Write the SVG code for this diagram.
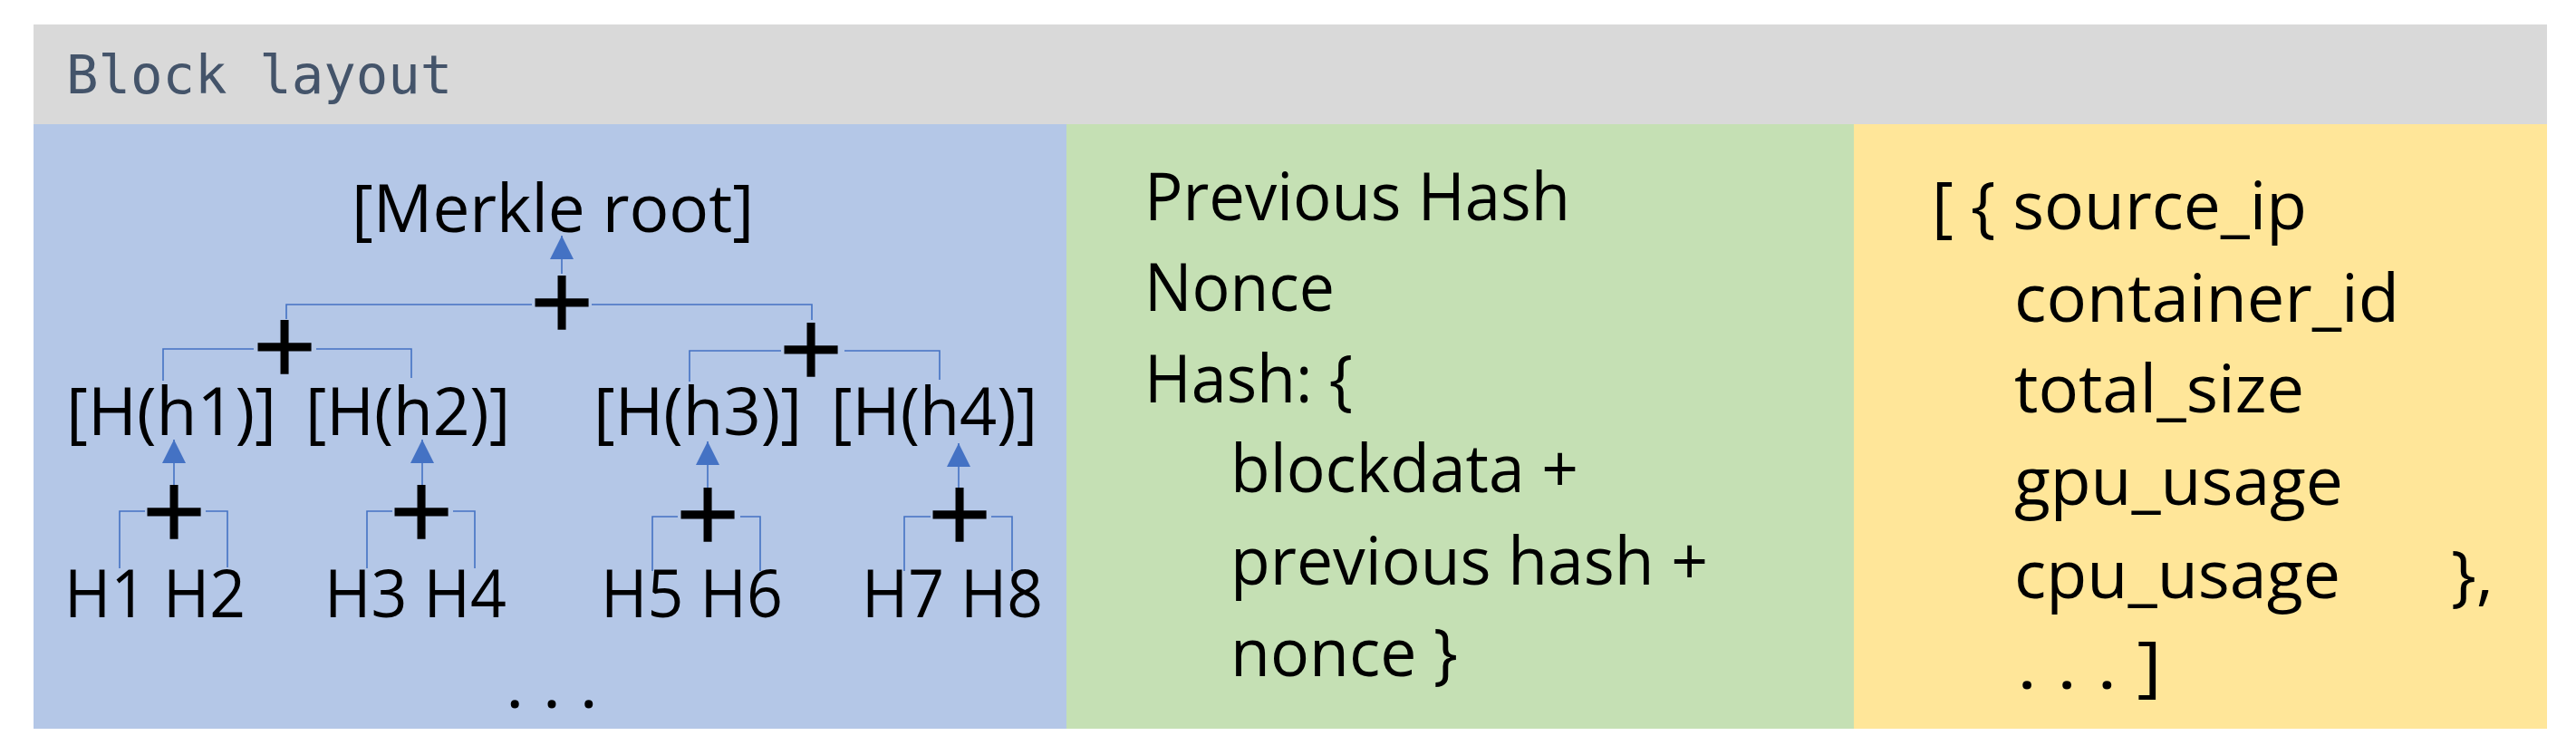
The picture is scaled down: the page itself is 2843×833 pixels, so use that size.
<svg xmlns="http://www.w3.org/2000/svg" width="2843" height="833" viewBox="0 0 2843 833">
<style>
.t{font-family:"Open Sans","Liberation Sans",sans-serif;font-size:74px;fill:#000}
.p{font-family:"DejaVu Sans",sans-serif;font-size:92px;fill:#000;stroke:#000;stroke-width:1.5;text-anchor:middle}
.c{fill:none;stroke:#4472C4;stroke-width:1.6}
.a{fill:none;stroke:#4472C4;stroke-width:1.6;marker-end:url(#arr)}
</style>
<defs>
<marker id="arr" viewBox="0 0 10 10" refX="10" refY="5" markerWidth="26" markerHeight="26" markerUnits="userSpaceOnUse" orient="auto">
<path d="M0,0 L10,5 L0,10 z" fill="#4472C4"/>
</marker>
</defs>
<rect x="0" y="0" width="2843" height="833" fill="#fff"/>
<g id="header">
<rect x="37" y="27" width="2774" height="110" fill="#D9D9D9"/>
<text x="73" y="103" font-family="DejaVu Sans Mono,Liberation Mono,monospace" font-size="59" fill="#44546A">Block layout</text>
</g>
<g id="merkle-panel">
<rect x="37" y="137" width="1140" height="667" fill="#B4C7E7"/>
</g>
<g id="header-panel">
<rect x="1177" y="137" width="869" height="667" fill="#C5E0B4"/>
</g>
<g id="data-panel">
<rect x="2046" y="137" width="765" height="667" fill="#FFE699"/>
</g>
<g id="connectors">
<polyline class="c" points="316,352 316,336 587,336"/>
<polyline class="c" points="653,336 896,336 896,353"/>
<polyline class="c" points="180,420 180,385 280,385"/>
<polyline class="c" points="349,385 454,385 454,417"/>
<polyline class="c" points="761,421 761,387 862,387"/>
<polyline class="c" points="932,387 1037,387 1037,419"/>
<polyline class="c" points="132,627 132,564 160,564"/>
<polyline class="c" points="227,564 251,564 251,626"/>
<polyline class="c" points="405,627 405,564 433,564"/>
<polyline class="c" points="500,564 524,564 524,627"/>
<polyline class="c" points="720,630 720,570 748,570"/>
<polyline class="c" points="817,570 839,570 839,630"/>
<polyline class="c" points="998,630 998,570 1027,570"/>
<polyline class="c" points="1094,570 1117,570 1117,630"/>
<line class="a" x1="620" y1="302" x2="620" y2="260"/>
<line class="a" x1="192" y1="537" x2="192" y2="485"/>
<line class="a" x1="466" y1="537" x2="466" y2="485"/>
<line class="a" x1="781" y1="539" x2="781" y2="487"/>
<line class="a" x1="1058" y1="539" x2="1058" y2="489"/>
</g>
<g id="root">
<text class="t" x="388" y="256" textLength="444" lengthAdjust="spacingAndGlyphs">[Merkle root]</text>
<text class="p" x="620" y="363">+</text>
</g>
<g id="level2">
<text class="p" x="314" y="412">+</text>
<text class="p" x="895" y="415">+</text>
<text class="t" x="73" y="480" textLength="232" lengthAdjust="spacingAndGlyphs">[H(h1)]</text>
<text class="t" x="337" y="480" textLength="226" lengthAdjust="spacingAndGlyphs">[H(h2)]</text>
<text class="t" x="655" y="480" textLength="230" lengthAdjust="spacingAndGlyphs">[H(h3)]</text>
<text class="t" x="917" y="480" textLength="228" lengthAdjust="spacingAndGlyphs">[H(h4)]</text>
</g>
<g id="leaves">
<text class="p" x="192" y="594">+</text>
<text class="p" x="465" y="594">+</text>
<text class="p" x="781" y="597">+</text>
<text class="p" x="1059" y="597">+</text>
<text class="t" x="71" y="681" textLength="200" lengthAdjust="spacingAndGlyphs">H1 H2</text>
<text class="t" x="358" y="681" textLength="201" lengthAdjust="spacingAndGlyphs">H3 H4</text>
<text class="t" x="663" y="681" textLength="201" lengthAdjust="spacingAndGlyphs">H5 H6</text>
<text class="t" x="951" y="681" textLength="200" lengthAdjust="spacingAndGlyphs">H7 H8</text>
<text class="t" x="558" y="781" textLength="102" lengthAdjust="spacingAndGlyphs">. . .</text>
</g>
<g id="header-fields">
<text class="t" x="1263" y="243" textLength="470" lengthAdjust="spacingAndGlyphs">Previous Hash</text>
<text class="t" x="1263" y="343" textLength="210" lengthAdjust="spacingAndGlyphs">Nonce</text>
<text class="t" x="1263" y="444" textLength="230" lengthAdjust="spacingAndGlyphs">Hash: {</text>
<text class="t" x="1358" y="543" textLength="384" lengthAdjust="spacingAndGlyphs">blockdata +</text>
<text class="t" x="1358" y="645" textLength="527" lengthAdjust="spacingAndGlyphs">previous hash +</text>
<text class="t" x="1358" y="746" textLength="251" lengthAdjust="spacingAndGlyphs">nonce }</text>
</g>
<g id="data-fields">
<text class="t" x="2132" y="253" textLength="414" lengthAdjust="spacingAndGlyphs">[ { source_ip</text>
<text class="t" x="2223" y="355" textLength="425" lengthAdjust="spacingAndGlyphs">container_id</text>
<text class="t" x="2223" y="455" textLength="320" lengthAdjust="spacingAndGlyphs">total_size</text>
<text class="t" x="2223" y="557" textLength="363" lengthAdjust="spacingAndGlyphs">gpu_usage</text>
<text class="t" x="2223" y="660" textLength="360" lengthAdjust="spacingAndGlyphs">cpu_usage</text>
<text class="t" x="2705" y="660">},</text>
<text class="t" x="2226" y="760" textLength="160" lengthAdjust="spacingAndGlyphs">. . . ]</text>
</g>
</svg>
